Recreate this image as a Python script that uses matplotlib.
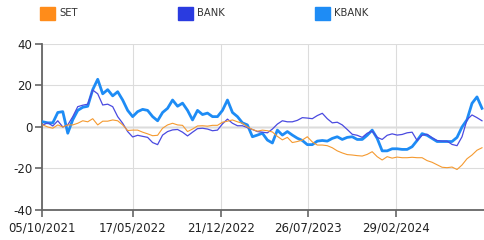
# Line chart of SET, BANK and KBANK relative performance (%).
import matplotlib
matplotlib.use('Agg')
import matplotlib.pyplot as plt
from matplotlib.patches import Rectangle
import pandas as pd

start_date = '2021-10-07'
end_date = '2024-09-28'

set_values = [1, 0, -0.6, 1, 0, 1, 1, 1.8, 3, 2.5, 4, 1, 2.8, 2.8, 3.4, 3, 1, -1.7,
              -1.5, -1.5, -2.5, -3.3, -4.2, -4, -0.6, 1, 1.8, 1, 0.8, -2.2, -1, 0.5,
              0.6, 0.4, 0.8, 0.8, 2.3, 2.8, 3.4, 2.5, 1.8, 0, -1.2, -2, -1.5, -1.8,
              -2.4, -4.5, -6.2, -5, -7.5, -7, -6.3, -4.7, -7.2, -8.7, -8.7, -9, -10,
              -11.5, -12.5, -13.3, -13.5, -13.8, -14, -13.2, -11.9, -14.3, -15.9,
              -14.3, -15, -14.5, -14.8, -14.8, -14.6, -14.8, -14.8, -16.2, -17, -18.2,
              -19.4, -19.6, -19.3, -20.5, -18.3, -15.3, -13.5, -11.2, -10]

bank_values = [1, 2, 0.5, 3, 0, 1, 5, 9.8, 10.5, 11, 17.8, 16, 10.6, 11, 9.8, 5, 1.8,
               -2.2, -4.8, -4, -4.5, -5, -7.5, -8.5, -3.9, -2.2, -1.4, -1.2, -2.5, -4.3,
               -2.5, -0.8, -0.6, -1, -1.8, -1.5, 1.5, 3.8, 1.8, 0.6, 0.6, -0.3, -1.2,
               -2.2, -2.5, -2.8, -1, 1.4, 3, 2.5, 2.5, 3.2, 4.5, 4.3, 4, 5.5, 6.6, 4, 2,
               2.3, 1, -1.2, -3.5, -4, -5, -3, -2, -5, -6, -4, -3.3, -3.9, -3.6, -2.8,
               -2.5, -6.5, -4, -3.5, -5.2, -6.5, -6.8, -6.8, -8.4, -9, -4.7, 3.5, 5.8,
               4.5, 3]

kbank_values = [2.5, 2, 2, 7, 7.4, -3, 3.5, 8, 9.5, 10, 18, 23, 16, 18, 15, 17, 13, 8,
                5, 7.4, 8.5, 8, 5, 3, 7, 9, 13, 10, 11.5, 8, 3.4, 8, 6, 6.7, 5, 5, 8,
                13, 7, 5, 2, 1, -4.7, -3.9, -3, -6.3, -7.7, -1.5, -3.9, -2.2, -3.9,
                -5.4, -6.5, -8.5, -8.5, -6.8, -6.5, -6.8, -5.5, -4.7, -6, -5, -4.7, -6,
                -6, -4, -1.5, -5.5, -11.5, -11.5, -10.5, -10.5, -10.8, -10.8, -9.5,
                -6.5, -3.2, -4, -5.5, -7, -7, -7, -7, -5, 0, 3.5, 11.4, 14.5, 9]

series_names = ['SET', 'BANK', 'KBANK']
series_colors = ['#FF8C1A', '#2A3BE0', '#1E8CF5']

tick_dates = ['2021-10-05', '2022-05-17', '2022-12-21', '2023-07-26', '2024-02-29']
tick_labels = ['05/10/2021', '17/05/2022', '21/12/2022', '26/07/2023', '29/02/2024']
y_ticks = [-40, -20, 0, 20, 40]


def main():
    dates = pd.date_range(start_date, end_date, periods=len(set_values))

    fig = plt.figure(figsize=(4.84, 2.40), dpi=100)
    ax = fig.add_axes([0.0868, 0.125, 0.9132, 0.6917])

    # draw lines (KBANK at the bottom, thicker)
    ax.plot(dates, kbank_values, color='#1E8CF5', linewidth=2.0, zorder=3)
    ax.plot(dates, bank_values, color='#4A4AE0', linewidth=0.9, zorder=4)
    ax.plot(dates, set_values, color='#F59A30', linewidth=0.8, zorder=5)

    ax.set_xlim(pd.Timestamp('2021-10-05'), pd.Timestamp('2024-10-03'))
    ax.set_ylim(-40, 40)
    ax.set_xticks(pd.to_datetime(tick_dates))
    ax.set_xticklabels(tick_labels)
    ax.set_yticks(y_ticks)
    ax.set_yticklabels([str(v) for v in y_ticks])

    # grid
    ax.grid(True, color='#dcdcdc', linewidth=0.8, zorder=0)
    ax.axhline(0, color='#a8a8a8', linewidth=1.0, zorder=1)

    for side in ['top', 'right']:
        ax.spines[side].set_visible(False)
    for side in ['left', 'bottom']:
        ax.spines[side].set_color('#666666')
        ax.spines[side].set_linewidth(1.3)

    ax.tick_params(axis='both', colors='#666666', length=5, width=1.2,
                   labelcolor='#222222', labelsize=8.5)
    ax.tick_params(axis='x', pad=3)
    ax.tick_params(axis='y', pad=2)

    # legend boxes across the top
    for i, (name, color) in enumerate(zip(series_names, series_colors)):
        x0 = 40 + i * 137.5
        fig.patches.append(Rectangle((x0 / 484, 1 - 20 / 240), 15 / 484, 13 / 240,
                                     transform=fig.transFigure, color=color))
        fig.text((x0 + 19) / 484, 1 - 13.5 / 240, name, fontsize=7.2,
                 color='#333333', va='center', ha='left')

    fig.savefig('out.png', dpi=100)


if __name__ == '__main__':
    main()
